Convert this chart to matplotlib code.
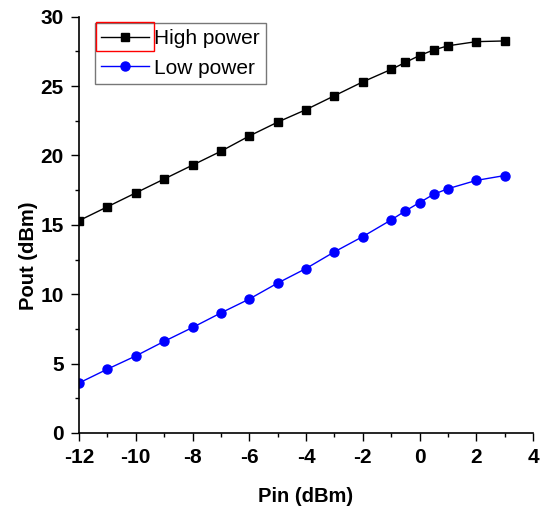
import numpy as np
import matplotlib
matplotlib.use("Agg")
import matplotlib.pyplot as plt
from matplotlib.ticker import MultipleLocator
from matplotlib.patches import Rectangle

plt.rcParams['font.family'] = ['Liberation Sans', 'DejaVu Sans']
plt.rcParams['axes.unicode_minus'] = False

# input power (dBm)
pin = [-12, -11, -10, -9, -8, -7, -6, -5, -4, -3, -2, -1, -0.5, 0, 0.5, 1, 2, 3]
# output power (dBm)
high_power = [15.3, 16.3, 17.3, 18.3, 19.3, 20.3, 21.4, 22.4, 23.3, 24.3, 25.3, 26.2,
              26.7, 27.2, 27.6, 27.9, 28.2, 28.25]
low_power = [3.6, 4.6, 5.55, 6.6, 7.6, 8.65, 9.65, 10.8, 11.85, 13.05, 14.15, 15.35,
             16.0, 16.6, 17.2, 17.6, 18.2, 18.55]

fig = plt.figure(figsize=(5.42, 5.21), dpi=100)
ax = fig.add_axes([0.1458, 0.169, 0.8376, 0.799])

ax.plot(pin, high_power, color="black", marker="s", markersize=6, lw=1, label="High power")
ax.plot(pin, low_power, color="blue", marker="o", markersize=6.5, lw=1, label="Low power")

ax.set_xlim(-12, 4)
ax.set_ylim(0, 30)
ax.xaxis.set_major_locator(MultipleLocator(2))
ax.xaxis.set_minor_locator(MultipleLocator(1))
ax.yaxis.set_major_locator(MultipleLocator(5))
ax.yaxis.set_minor_locator(MultipleLocator(2.5))

for s in ["top", "right"]:
    ax.spines[s].set_visible(False)
for s in ["left", "bottom"]:
    ax.spines[s].set_linewidth(1.2)

ax.tick_params(which="major", direction="out", length=6, width=1, labelsize=15, pad=5)
ax.tick_params(which="minor", direction="out", length=3, width=1)
for lab in ax.get_xticklabels() + ax.get_yticklabels():
    lab.set_fontweight("bold")

ax.set_xlabel("Pin (dBm)", fontsize=14.5, fontweight="bold", labelpad=14)
ax.set_ylabel("Pout (dBm)", fontsize=14.5, fontweight="bold")
ax.yaxis.set_label_coords(-0.09, 0.425)

leg = ax.legend(loc="upper left", bbox_to_anchor=(0.035, 0.985), fontsize=15, frameon=True,
                fancybox=False, edgecolor="#555555", handlelength=2.3, borderpad=0.3,
                labelspacing=0.5, handletextpad=0.25, borderaxespad=0)
leg.get_frame().set_linewidth(1)

# red selection box around first legend handle
fig.canvas.draw()
h = leg.legend_handles[0]
bb = h.get_window_extent().transformed(fig.transFigure.inverted())
cy = (bb.y0 + bb.y1) / 2
fig.patches.append(Rectangle((bb.x0 - 0.002, cy - 0.028), bb.width + 0.004, 0.056,
                             transform=fig.transFigure, fill=False, edgecolor="red", lw=1))

fig.savefig("out.png", dpi=100)
